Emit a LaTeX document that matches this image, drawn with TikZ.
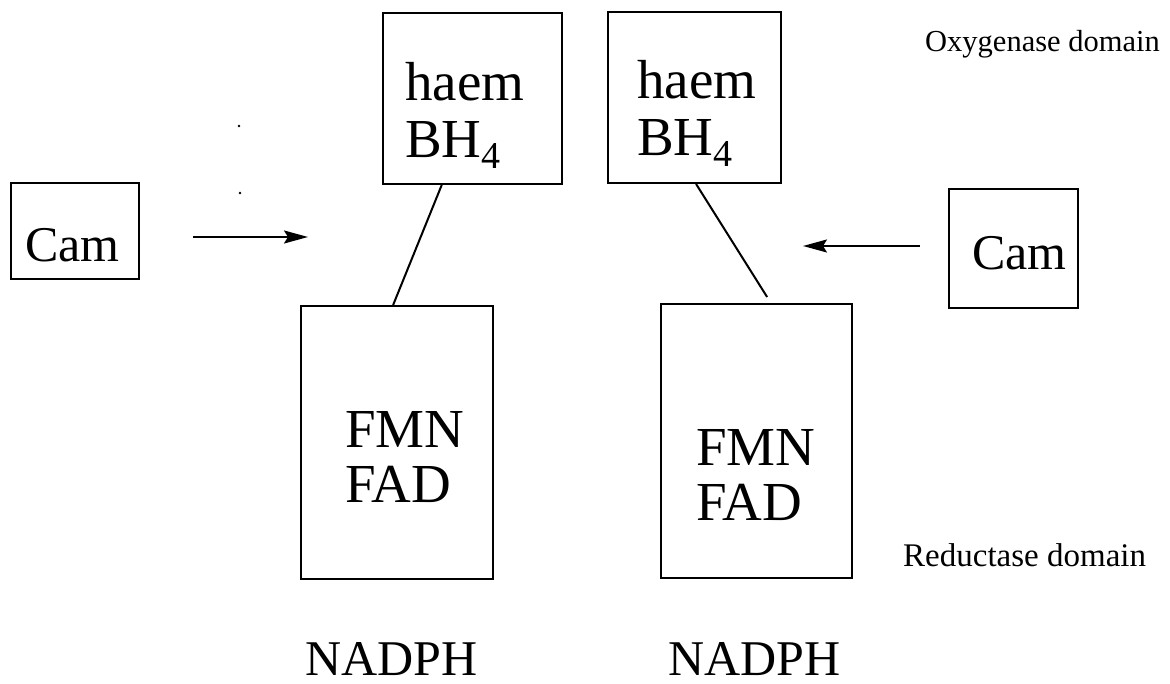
\documentclass[tikz,border=0pt]{standalone}
\usepackage{fontspec}
\setmainfont{Liberation Serif}
\usetikzlibrary{arrows.meta,calc}

\tikzset{
  domainbox/.style={draw, line width=2pt, inner sep=0pt, anchor=north west},
  bigtext/.style={anchor=base west, inner sep=0pt, font=\fontsize{50}{60}\selectfont},
  boxtext/.style={anchor=base west, inner sep=0pt, font=\fontsize{55}{66}\selectfont},
  smalltext/.style={anchor=base west, inner sep=0pt, font=\fontsize{30.5}{36}\selectfont},
  link/.style={line width=2pt},
  bindarrow/.style={line width=2pt, -{Stealth[length=24pt, width=13pt, inset=4pt]}},
}
\newcommand{\subfour}{\raisebox{-0.2em}{\fontsize{38}{44}\selectfont 4}}

\begin{document}
\begin{tikzpicture}[x=1pt, y=-1pt]
  \useasboundingbox (0,0) rectangle (1170,684);

  % calmodulin boxes
  \node[domainbox, minimum width=128pt, minimum height=96pt] (camL) at (10,182) {};
  \node[domainbox, minimum width=129pt, minimum height=119pt] (camR) at (948,188) {};
  \node[bigtext] (camLtxt) at (25,262) {Cam};
  \node[bigtext] (camRtxt) at (972,270) {Cam};

  % oxygenase boxes
  \node[domainbox, minimum width=179pt, minimum height=171pt] (oxL) at (382,12) {};
  \node[domainbox, minimum width=173pt, minimum height=171pt] (oxR) at (607,11) {};
  \node[boxtext] (oxLa) at (405,101) {haem};
  \node[boxtext] (oxLb) at (405,158) {BH\subfour};
  \node[boxtext] (oxRa) at (637,99) {haem};
  \node[boxtext] (oxRb) at (637,156) {BH\subfour};

  % reductase boxes
  \node[domainbox, minimum width=192pt, minimum height=273pt] (redL) at (300,305) {};
  \node[domainbox, minimum width=191pt, minimum height=274pt] (redR) at (660,303) {};
  \node[boxtext] (redLa) at (345,447) {FMN};
  \node[boxtext] (redLb) at (345,502) {FAD};
  \node[boxtext] (redRa) at (696,465) {FMN};
  \node[boxtext] (redRb) at (696,520) {FAD};

  % cofactor labels
  \node[bigtext] (nadL) at (305,675) {NADPH};
  \node[bigtext] (nadR) at (668,675) {NADPH};

  % domain labels
  \node[smalltext] (oxlab) at (925,52) {Oxygenase domain};
  \node[smalltext, font=\fontsize{33}{40}\selectfont] (redlab) at (903,566) {Reductase domain};

  % linkers between oxygenase and reductase domains
  \draw[link] ($(oxL.south west)!0.33!(oxL.south east)$) -- ($(redL.north west)!0.48!(redL.north east)$);
  \coordinate (linkRend) at ($(redR.north west)!0.555!(redR.north east)+(0,-6)$);
  \draw[link] ($(oxR.south west)!0.509!(oxR.south east)$) -- (linkRend);

  % calmodulin binding arrows
  \coordinate (arrLs) at (193,237);
  \coordinate (arrLe) at (308,237);
  \coordinate (arrRs) at (920,246);
  \coordinate (arrRe) at (803,246);
  \draw[bindarrow] (arrLs) -- (arrLe);
  \draw[bindarrow] (arrRs) -- (arrRe);

  % stray dots
  \fill (239,126) circle (1.4pt);
  \fill (240,193) circle (1.4pt);
\end{tikzpicture}
\end{document}
